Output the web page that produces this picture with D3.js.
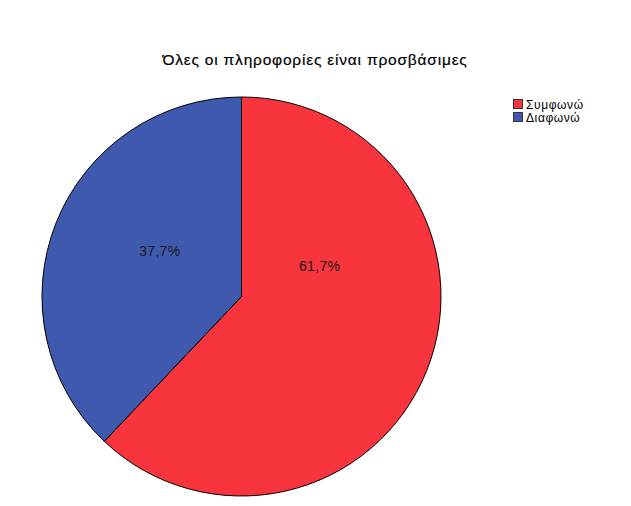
<!DOCTYPE html>
<html lang="el">
<head>
<meta charset="UTF-8">
<title>Pie</title>
<script src="https://d3js.org/d3.v7.min.js"></script>
<style>
  body { margin: 0; background: #fff; }
  text { font-family: "Liberation Sans", Arial, sans-serif; }
</style>
</head>
<body>
<svg width="631" height="506"></svg>
<script>
  const categories = ['Συμφωνώ', 'Διαφωνώ'];
  const values = [61.7, 37.7];
  const labels = ['61,7%', '37,7%'];
  const colors = ['#f8343c', '#3f59ae'];

  const svg = d3.select('svg');
  const cx = 241.5, cy = 296.5, r = 199.5;

  svg.append('text')
     .attr('x', 315).attr('y', 65)
     .attr('text-anchor', 'middle')
     .attr('font-size', 15.5)
     .attr('letter-spacing', 0.8)
     .attr('stroke', '#000').attr('stroke-width', 0.2)
     .text('Όλες οι πληροφορίες είναι προσβάσιμες');

  const pie = d3.pie().sort(null)(values);
  const arc = d3.arc().innerRadius(0).outerRadius(r);

  const g = svg.append('g').attr('transform', `translate(${cx},${cy})`);
  g.selectAll('path')
   .data(pie)
   .enter()
   .append('path')
   .attr('d', arc)
   .attr('fill', (d, i) => colors[i])
   .attr('stroke', '#000')
   .attr('stroke-width', 1);

  // where the labels sit: fraction along the slice, fraction of radius
  const labelPos = [[0.308, 0.42], [0.556, 0.47]];
  g.selectAll('.lbl')
   .data(pie)
   .enter()
   .append('text')
   .attr('class', 'lbl')
   .attr('x', (d, i) => {
     const a = d.startAngle + labelPos[i][0] * (d.endAngle - d.startAngle);
     return Math.sin(a) * labelPos[i][1] * r;
   })
   .attr('y', (d, i) => {
     const a = d.startAngle + labelPos[i][0] * (d.endAngle - d.startAngle);
     return -Math.cos(a) * labelPos[i][1] * r + 5;
   })
   .attr('text-anchor', 'middle')
   .attr('font-size', 14)
   .attr('letter-spacing', 0.3)
   .attr('fill', '#1a1a1a')
   .text((d, i) => labels[i]);

  const legend = svg.append('g').attr('transform', 'translate(513,99)');
  const item = legend.selectAll('g')
     .data(categories)
     .enter()
     .append('g')
     .attr('transform', (d, i) => `translate(0,${i * 13})`);
  item.append('rect')
      .attr('x', 0.5).attr('y', 0.5)
      .attr('width', 9).attr('height', 9)
      .attr('fill', (d, i) => colors[i])
      .attr('stroke', '#333');
  item.append('text')
      .attr('x', 13).attr('y', 9.5)
      .attr('font-size', 12)
      .attr('letter-spacing', 0.6)
      .text(d => d);
</script>
</body>
</html>
